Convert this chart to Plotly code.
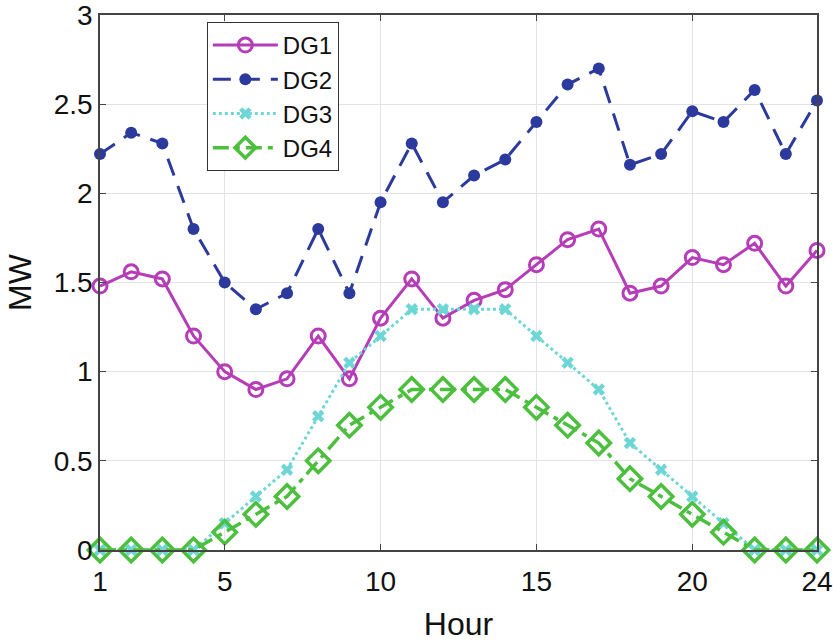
import plotly.graph_objects as go

hours = list(range(1, 25))
dg1 = [1.48, 1.56, 1.52, 1.2, 1.0, 0.9, 0.96, 1.2, 0.96, 1.3, 1.52, 1.3,
       1.4, 1.46, 1.6, 1.74, 1.8, 1.44, 1.48, 1.64, 1.6, 1.72, 1.48, 1.68]
dg2 = [2.22, 2.34, 2.28, 1.8, 1.5, 1.35, 1.44, 1.8, 1.44, 1.95, 2.28, 1.95,
       2.1, 2.19, 2.4, 2.61, 2.7, 2.16, 2.22, 2.46, 2.4, 2.58, 2.22, 2.52]
dg3 = [0, 0, 0, 0, 0.15, 0.3, 0.45, 0.75, 1.05, 1.2, 1.35, 1.35,
       1.35, 1.35, 1.2, 1.05, 0.9, 0.6, 0.45, 0.3, 0.15, 0, 0, 0]
dg4 = [0, 0, 0, 0, 0.1, 0.2, 0.3, 0.5, 0.7, 0.8, 0.9, 0.9,
       0.9, 0.9, 0.8, 0.7, 0.6, 0.4, 0.3, 0.2, 0.1, 0, 0, 0]
x_ticks = [1, 5, 10, 15, 20, 24]
y_ticks = [0, 0.5, 1, 1.5, 2, 2.5, 3]
y_tick_text = ["0", "0.5", "1", "1.5", "2", "2.5", "3"]

FONT = "Liberation Sans, Arial, Helvetica, sans-serif"

fig = go.Figure()
fig.add_trace(go.Scatter(
    x=hours, y=dg1, name="DG1", mode="lines+markers", cliponaxis=False,
    line=dict(color="#B63DB8", width=3, dash="solid"),
    marker=dict(symbol="circle-open", size=14, color="#B63DB8", line=dict(width=3))))
fig.add_trace(go.Scatter(
    x=hours, y=dg2, name="DG2", mode="lines+markers", cliponaxis=False,
    line=dict(color="#2B3A9C", width=3, dash="18px,11px"),
    marker=dict(symbol="circle", size=12, color="#2B3A9C")))
fig.add_trace(go.Scatter(
    x=hours, y=dg3, name="DG3", mode="lines+markers", cliponaxis=False,
    line=dict(color="#6FD6D6", width=3, dash="dot"),
    marker=dict(symbol="x", size=11, color="#6FD6D6")))
fig.add_trace(go.Scatter(
    x=hours, y=dg4, name="DG4", mode="lines+markers", cliponaxis=False,
    line=dict(color="#4CBF3E", width=3.5, dash="16px,6px,5px,6px"),
    marker=dict(symbol="diamond-open", size=18, color="#4CBF3E", line=dict(width=3.5))))

fig.update_layout(
    width=833, height=642,
    margin=dict(l=100, r=16, t=15, b=92),
    paper_bgcolor="white", plot_bgcolor="white",
    font=dict(family=FONT, color="#111111", size=22),
    showlegend=True,
    legend=dict(
        x=0.149, y=0.987, xanchor="left", yanchor="top",
        bgcolor="white", bordercolor="#333333", borderwidth=1,
        font=dict(size=24, family=FONT),
        itemwidth=65, tracegroupgap=0,
    ),
)
fig.update_xaxes(
    range=[1, 24], tickvals=x_ticks, ticktext=[str(t) for t in x_ticks],
    showgrid=True, gridcolor="#e3e3e3", gridwidth=1,
    showline=True, linecolor="#444444", linewidth=1.5, mirror="ticks",
    ticks="inside", ticklen=6, tickcolor="#444444",
    tickfont=dict(size=28, family=FONT), automargin=False,
    ticklabelstandoff=6, ticklabeloverflow="allow",
    title=dict(text="Hour", font=dict(size=32, family=FONT), standoff=16),
    zeroline=False,
)
fig.update_yaxes(
    range=[0, 3], tickvals=y_ticks, ticktext=y_tick_text,
    showgrid=True, gridcolor="#e3e3e3", gridwidth=1,
    showline=True, linecolor="#444444", linewidth=1.5, mirror="ticks",
    ticks="inside", ticklen=6, tickcolor="#444444",
    tickfont=dict(size=28, family=FONT), automargin=False,
    ticklabeloverflow="allow",
    title=dict(text="MW", font=dict(size=32, family=FONT), standoff=13),
    zeroline=False,
)

fig.write_html("out.html", config={"displayModeBar": False},
               post_script="document.body.style.margin='0px';")
